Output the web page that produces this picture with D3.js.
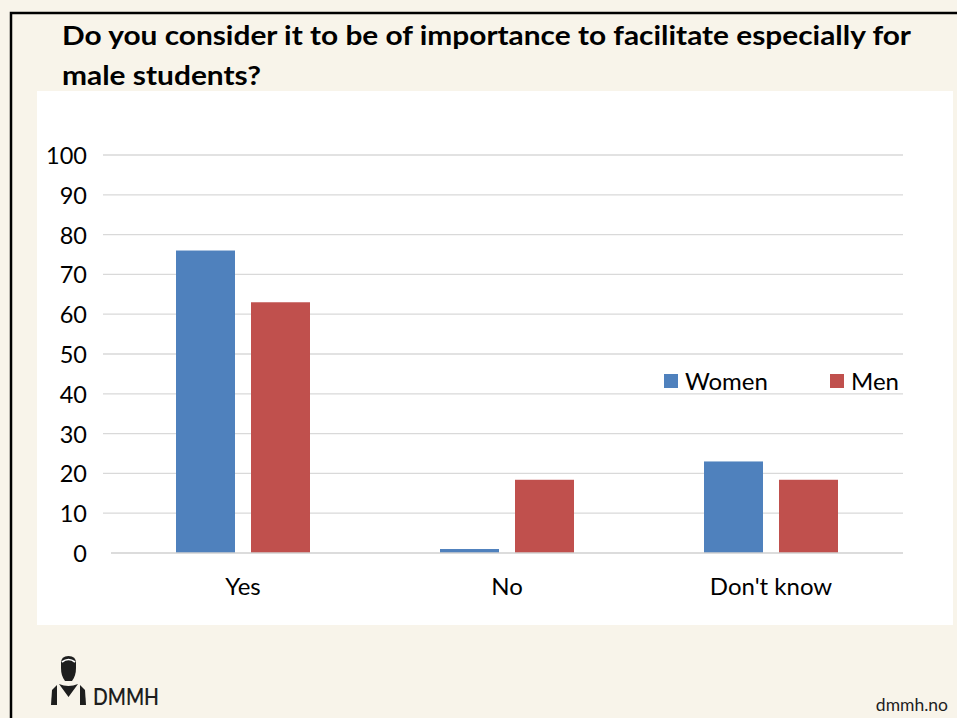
<!DOCTYPE html>
<html>
<head>
<meta charset="utf-8">
<script src="https://cdn.jsdelivr.net/npm/d3@7/dist/d3.min.js"></script>
<style>
  html, body { margin: 0; padding: 0; background: #f8f4ea; }
  svg { display: block; }
  text { font-family: Lato, "Open Sans", "Liberation Sans", sans-serif; }
</style>
</head>
<body>
<svg id="chart" width="957" height="718"></svg>
<script>
// Survey answers, percentage per group
const categories = ["Yes", "No", "Don't know"];
const seriesNames = ["Women", "Men"];
const womenValues = [76, 1, 23];
const menValues = [63, 18.4, 18.4];
const yTicks = [0, 10, 20, 30, 40, 50, 60, 70, 80, 90, 100];
const seriesColors = ["#4f81bd", "#c0504d"];

const svg = d3.select("#chart");

// Slide background and frame
svg.append("rect").attr("width", 957).attr("height", 718).attr("fill", "#f8f4ea");
svg.append("path")
  .attr("d", "M11,718 V13 H957")
  .attr("fill", "none").attr("stroke", "#000").attr("stroke-width", 2.5);

// Title
svg.append("text").attr("x", 62).attr("y", 45)
  .attr("font-size", 27).attr("font-weight", 700).attr("fill", "#000")
  .attr("textLength", 849).attr("lengthAdjust", "spacingAndGlyphs")
  .text("Do you consider it to be of importance to facilitate especially for");
svg.append("text").attr("x", 62).attr("y", 85)
  .attr("font-size", 27).attr("font-weight", 700).attr("fill", "#000")
  .attr("textLength", 199).attr("lengthAdjust", "spacingAndGlyphs")
  .text("male students?");

// Chart area
svg.append("rect").attr("x", 37).attr("y", 91).attr("width", 916).attr("height", 534).attr("fill", "#fff");

const x0 = d3.scaleBand().domain(categories).range([111, 903]).paddingInner(0).paddingOuter(0);
const y = d3.scaleLinear().domain([0, 100]).range([553, 155]);

// Gridlines
svg.append("g").selectAll("line").data(yTicks.filter(d => d > 0)).join("line")
  .attr("x1", 103).attr("x2", 903)
  .attr("y1", d => y(d)).attr("y2", d => y(d))
  .attr("stroke", "#d9d9d9").attr("stroke-width", 1.3);

// Y axis labels
const yAxis = d3.axisLeft(y).tickValues(yTicks).tickSize(0).tickPadding(0);
const yg = svg.append("g").attr("transform", "translate(87,0)").call(yAxis);
yg.select(".domain").remove();
yg.selectAll("text").attr("font-size", 23.5).attr("fill", "#000")
  .attr("font-family", "Lato, 'Open Sans', sans-serif").attr("dy", "0.36em");

// Bars
const barW = 59, gap = 16;
const x1 = d3.scaleOrdinal().domain(seriesNames).range([-(barW + gap) / 2 - barW / 2, (barW + gap) / 2 - barW / 2]);
const rows = categories.map((c, i) => ({ cat: c, vals: [womenValues[i], menValues[i]] }));
const groups = svg.append("g").selectAll("g").data(rows).join("g")
  .attr("transform", d => `translate(${x0(d.cat) + x0.bandwidth() / 2},0)`);
groups.selectAll("rect").data(d => d.vals.map((v, j) => ({ s: seriesNames[j], v, c: seriesColors[j] })))
  .join("rect")
  .attr("x", d => x1(d.s)).attr("width", barW)
  .attr("y", d => y(d.v)).attr("height", d => y(0) - y(d.v))
  .attr("fill", d => d.c);

// Baseline
svg.append("line").attr("x1", 111).attr("x2", 903).attr("y1", y(0)).attr("y2", y(0))
  .attr("stroke", "#d0d0d0").attr("stroke-width", 1.5);

// Category labels
const xAxis = d3.axisBottom(x0).tickSize(0).tickPadding(0);
const xg = svg.append("g").attr("transform", `translate(0,${y(0) + 42})`).call(xAxis);
xg.select(".domain").remove();
xg.selectAll("text").attr("font-size", 24).attr("fill", "#000")
  .attr("font-family", "Lato, 'Open Sans', sans-serif").attr("dy", 0);

// Legend
const legendX = [664, 830];
const legend = svg.append("g").selectAll("g").data(seriesNames).join("g")
  .attr("transform", (d, i) => `translate(${legendX[i]},374)`);
legend.append("rect").attr("width", 14).attr("height", 14).attr("fill", (d, i) => seriesColors[i]);
legend.append("text").attr("x", 21).attr("y", 15.5).attr("font-size", 24).attr("fill", "#000").text(d => d);

// Logo figure
const logo = svg.append("g").attr("fill", "#1e1e1e");
logo.append("path").attr("d", "M61,663 Q61,656 68.5,656 Q76,656 76,663 L76,668 Q76,676 72,681 L65,681 Q61,676 61,668 Z");
logo.append("path").attr("d", "M62,662 Q68.5,657 75,662").attr("fill", "none").attr("stroke", "#fff").attr("stroke-width", 1.6);
logo.append("path").attr("d", "M59,684 Q68.5,688 78,684 L68.5,697 Z");
logo.append("path").attr("d", "M57,685 L52,690 L51,705 L57,705 Z");
logo.append("path").attr("d", "M80,685 L85,690 L86,705 L80,705 Z");
svg.append("text").attr("x", 93).attr("y", 705).attr("font-size", 23).attr("font-weight", 600)
  .attr("fill", "#1e1e1e").attr("textLength", 66).attr("lengthAdjust", "spacingAndGlyphs").text("DMMH");

// Footer
svg.append("text").attr("x", 948).attr("y", 711).attr("text-anchor", "end")
  .attr("font-size", 17.5).attr("fill", "#1e1e1e").text("dmmh.no");
</script>
</body>
</html>
